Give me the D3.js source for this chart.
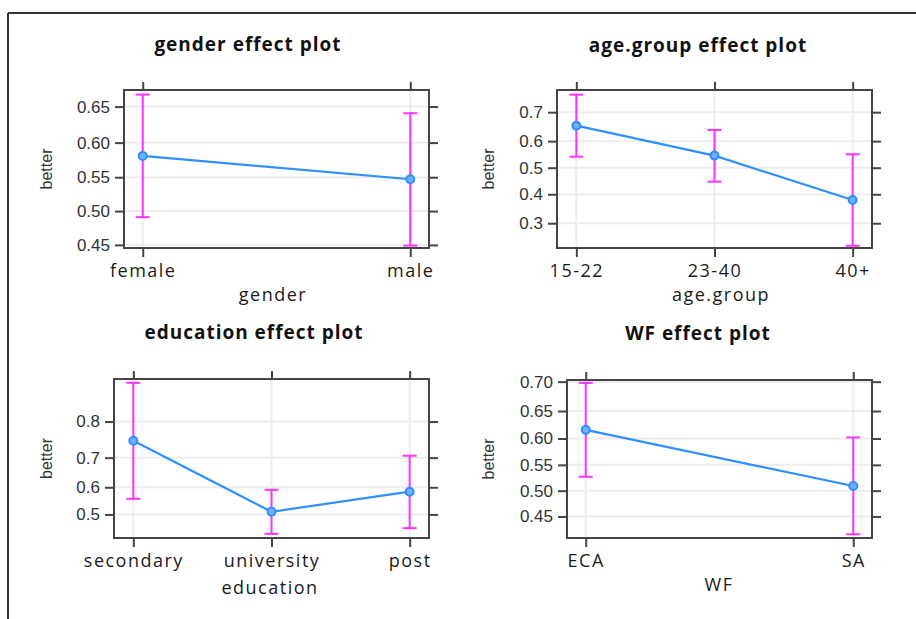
<!DOCTYPE html>
<html>
<head>
<meta charset="utf-8">
<script src="https://cdn.jsdelivr.net/npm/d3@7"></script>
<style>
  body { margin: 0; background: #fff; }
  .title { font-family: "Open Sans", sans-serif; font-weight: 700; font-size: 19px; letter-spacing: 1px; fill: #111; }
  .xlab { font-family: "Open Sans", sans-serif; font-size: 18px; letter-spacing: 1.5px; fill: #1a1a1a; }
  .ylab { font-family: "Liberation Sans", Arial, sans-serif; font-size: 16px; fill: #333; }
</style>
</head>
<body>
<div class="chart"></div>
<script>
// data (probability scale)
const genderLevels = ['female', 'male'];
const genderFit = [0.581, 0.547];
const genderLower = [0.491, 0.449];
const genderUpper = [0.666, 0.641];
const genderTicks = [0.45, 0.50, 0.55, 0.60, 0.65];
const genderLim = [0.4455, 0.672];

const ageLevels = ['15-22', '23-40', '40+'];
const ageFit = [0.655, 0.546, 0.379];
const ageLower = [0.542, 0.447, 0.233];
const ageUpper = [0.753, 0.640, 0.551];
const ageTicks = [0.3, 0.4, 0.5, 0.6, 0.7];
const ageLim = [0.227, 0.766];

const eduLevels = ['secondary', 'university', 'post'];
const eduFit = [0.750, 0.510, 0.584];
const eduLower = [0.558, 0.428, 0.449];
const eduUpper = [0.877, 0.591, 0.706];
const eduTicks = [0.5, 0.6, 0.7, 0.8];
const eduLim = [0.413, 0.883];

const wfLevels = ['ECA', 'SA'];
const wfFit = [0.616, 0.509];
const wfLower = [0.527, 0.416];
const wfUpper = [0.698, 0.602];
const wfTicks = [0.45, 0.50, 0.55, 0.60, 0.65, 0.70];
const wfLim = [0.409, 0.7027];

const logit = p => Math.log(p / (1 - p));
const expit = v => 1 / (1 + Math.exp(-v));

const W = 916, H = 619;

const svg = d3.select('.chart')
    .append('svg')
    .attr('width', W)
    .attr('height', H);

// outer frame (top and left edges only visible)
svg.append('line').attr('x1', 8).attr('x2', W).attr('y1', 13).attr('y2', 13)
    .attr('stroke', '#333').attr('stroke-width', 2);
svg.append('line').attr('x1', 8).attr('x2', 8).attr('y1', 13).attr('y2', H)
    .attr('stroke', '#333').attr('stroke-width', 2);

const panels = [
    { title: 'gender effect plot', xName: 'gender', levels: genderLevels, fit: genderFit, lower: genderLower, upper: genderUpper,
      ticks: genderTicks, lim: genderLim, fmt: d3.format('.2f'),
      box: { l: 124, r: 429, t: 90, b: 248 }, titleX: 248, titleY: 51, xNameX: 273, xNameY: 301, ylabX: 47 },
    { title: 'age.group effect plot', xName: 'age.group', levels: ageLevels, fit: ageFit, lower: ageLower, upper: ageUpper,
      ticks: ageTicks, lim: ageLim, fmt: d3.format('.1f'),
      box: { l: 557, r: 872, t: 90, b: 248 }, titleX: 698, titleY: 52, xNameX: 721, xNameY: 301, ylabX: 489 },
    { title: 'education effect plot', xName: 'education', levels: eduLevels, fit: eduFit, lower: eduLower, upper: eduUpper,
      ticks: eduTicks, lim: eduLim, fmt: d3.format('.1f'),
      box: { l: 114, r: 429, t: 379, b: 538 }, titleX: 254, titleY: 339, xNameX: 270, xNameY: 594, ylabX: 47 },
    { title: 'WF effect plot', xName: 'WF', levels: wfLevels, fit: wfFit, lower: wfLower, upper: wfUpper,
      ticks: wfTicks, lim: wfLim, fmt: d3.format('.2f'),
      box: { l: 567, r: 872, t: 380, b: 538 }, titleX: 698, titleY: 340, xNameX: 719, xNameY: 591, ylabX: 489 }
];

const drawPanel = (p) => {
    const g = svg.append('g');
    const n = p.levels.length;

    // scales: categorical x, logit-transformed y
    const xScale = d3.scalePoint()
        .domain(p.levels)
        .range([p.box.l, p.box.r])
        .padding(0.07 * (n - 1));

    const yScale = d3.scaleLinear()
        .domain([logit(p.lim[0]), logit(p.lim[1])])
        .range([p.box.b, p.box.t]);

    const tickPos = p.ticks.map(logit);

    // grid
    g.append('g').selectAll('line.hgrid')
        .data(tickPos)
        .join('line')
        .attr('x1', p.box.l).attr('x2', p.box.r)
        .attr('y1', d => yScale(d)).attr('y2', d => yScale(d))
        .attr('stroke', '#ececec').attr('stroke-width', 2);
    g.append('g').selectAll('line.vgrid')
        .data(p.levels)
        .join('line')
        .attr('x1', d => xScale(d)).attr('x2', d => xScale(d))
        .attr('y1', p.box.t).attr('y2', p.box.b)
        .attr('stroke', '#ececec').attr('stroke-width', 2);

    // axes
    const styleAxis = sel => {
        sel.select('.domain').remove();
        sel.selectAll('.tick line').attr('stroke', '#444').attr('stroke-width', 2);
    };

    g.append('g')
        .attr('transform', `translate(${p.box.l},0)`)
        .call(d3.axisLeft(yScale).tickValues(tickPos).tickFormat(v => p.fmt(expit(v))).tickSize(9).tickPadding(5))
        .call(styleAxis)
        .selectAll('text')
        .attr('font-family', '"Liberation Sans", Arial, sans-serif')
        .attr('font-size', 17)
        .attr('fill', '#333');

    g.append('g')
        .attr('transform', `translate(${p.box.r},0)`)
        .call(d3.axisRight(yScale).tickValues(tickPos).tickFormat('').tickSize(9))
        .call(styleAxis);

    g.append('g')
        .attr('transform', `translate(0,${p.box.b})`)
        .call(d3.axisBottom(xScale).tickSize(9).tickPadding(7))
        .call(styleAxis)
        .selectAll('text')
        .attr('class', 'xlab')
        .attr('font-size', null)
        .attr('font-family', null)
        .attr('fill', null);

    g.append('g')
        .attr('transform', `translate(0,${p.box.t})`)
        .call(d3.axisTop(xScale).tickFormat('').tickSize(8))
        .call(styleAxis);

    // panel box
    g.append('rect')
        .attr('x', p.box.l).attr('y', p.box.t)
        .attr('width', p.box.r - p.box.l).attr('height', p.box.b - p.box.t)
        .attr('fill', 'none').attr('stroke', '#444').attr('stroke-width', 2);

    const rows = p.levels.map((lev, i) => ({ lev, fit: p.fit[i], lo: p.lower[i], hi: p.upper[i] }));

    // confidence bars
    const bars = g.append('g').selectAll('g').data(rows).join('g')
        .attr('stroke', '#ff33ff').attr('stroke-width', 2);
    bars.append('line')
        .attr('x1', d => xScale(d.lev)).attr('x2', d => xScale(d.lev))
        .attr('y1', d => yScale(logit(d.lo))).attr('y2', d => yScale(logit(d.hi)));
    bars.append('line')
        .attr('x1', d => xScale(d.lev) - 7).attr('x2', d => xScale(d.lev) + 7)
        .attr('y1', d => yScale(logit(d.lo))).attr('y2', d => yScale(logit(d.lo)));
    bars.append('line')
        .attr('x1', d => xScale(d.lev) - 7).attr('x2', d => xScale(d.lev) + 7)
        .attr('y1', d => yScale(logit(d.hi))).attr('y2', d => yScale(logit(d.hi)));

    // fitted line
    const lineGen = d3.line().x(d => xScale(d.lev)).y(d => yScale(logit(d.fit)));
    g.append('path')
        .attr('d', lineGen(rows))
        .attr('fill', 'none')
        .attr('stroke', '#2f8fff')
        .attr('stroke-width', 2.2);

    g.append('g').selectAll('circle').data(rows).join('circle')
        .attr('cx', d => xScale(d.lev))
        .attr('cy', d => yScale(logit(d.fit)))
        .attr('r', 4)
        .attr('fill', '#6fb0ff')
        .attr('stroke', '#2f8fff')
        .attr('stroke-width', 2);

    // labels
    g.append('text').attr('class', 'title')
        .attr('x', p.titleX).attr('y', p.titleY)
        .attr('text-anchor', 'middle')
        .text(p.title);

    g.append('text').attr('class', 'xlab')
        .attr('x', p.xNameX).attr('y', p.xNameY)
        .attr('text-anchor', 'middle')
        .text(p.xName);

    const midY = (p.box.t + p.box.b) / 2;
    g.append('text').attr('class', 'ylab')
        .attr('transform', `translate(${p.ylabX + 5},${midY}) rotate(-90)`)
        .attr('text-anchor', 'middle')
        .text('better');
};

panels.forEach(drawPanel);
</script>
</body>
</html>
